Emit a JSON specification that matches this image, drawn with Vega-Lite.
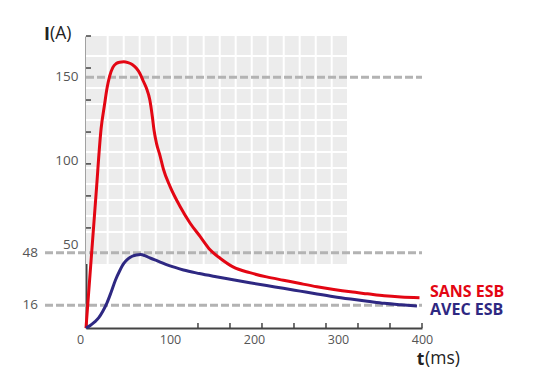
{
  "$schema": "https://vega.github.io/schema/vega-lite/v6.json",
  "width": 336,
  "height": 292,
  "autosize": {"type": "none"},
  "padding": {"left": 86, "top": 36, "right": 114, "bottom": 59},
  "background": "white",
  "config": {
    "view": {"stroke": null},
    "font": "Open Sans",
    "axis": {"grid": false, "zindex": 1, "labelFont": "Open Sans", "titleFont": "Open Sans", "labelOverlap": false, "labelFlush": false, "labelBound": false}
  },
  "datasets": {
    "curves": [
      {"s": "SANS ESB", "t": 0, "i": 0},
      {"s": "SANS ESB", "t": 6, "i": 40},
      {"s": "SANS ESB", "t": 12, "i": 80},
      {"s": "SANS ESB", "t": 18, "i": 119},
      {"s": "SANS ESB", "t": 22, "i": 133},
      {"s": "SANS ESB", "t": 25, "i": 143},
      {"s": "SANS ESB", "t": 28, "i": 150},
      {"s": "SANS ESB", "t": 32, "i": 155.5},
      {"s": "SANS ESB", "t": 36, "i": 157.8},
      {"s": "SANS ESB", "t": 40, "i": 158.6},
      {"s": "SANS ESB", "t": 45, "i": 158.8},
      {"s": "SANS ESB", "t": 50, "i": 158.3},
      {"s": "SANS ESB", "t": 55, "i": 157.2},
      {"s": "SANS ESB", "t": 60, "i": 155},
      {"s": "SANS ESB", "t": 64, "i": 152},
      {"s": "SANS ESB", "t": 68, "i": 147.5},
      {"s": "SANS ESB", "t": 72, "i": 143},
      {"s": "SANS ESB", "t": 76, "i": 136},
      {"s": "SANS ESB", "t": 79, "i": 126},
      {"s": "SANS ESB", "t": 81, "i": 118},
      {"s": "SANS ESB", "t": 84, "i": 110},
      {"s": "SANS ESB", "t": 88, "i": 103},
      {"s": "SANS ESB", "t": 92, "i": 95},
      {"s": "SANS ESB", "t": 100, "i": 84.5},
      {"s": "SANS ESB", "t": 112, "i": 72.5},
      {"s": "SANS ESB", "t": 124, "i": 62.5},
      {"s": "SANS ESB", "t": 136, "i": 54.5},
      {"s": "SANS ESB", "t": 148, "i": 46.5},
      {"s": "SANS ESB", "t": 160, "i": 41.5},
      {"s": "SANS ESB", "t": 175, "i": 36.5},
      {"s": "SANS ESB", "t": 195, "i": 33},
      {"s": "SANS ESB", "t": 215, "i": 30.5},
      {"s": "SANS ESB", "t": 235, "i": 28.5},
      {"s": "SANS ESB", "t": 255, "i": 26.5},
      {"s": "SANS ESB", "t": 275, "i": 24.6},
      {"s": "SANS ESB", "t": 295, "i": 23},
      {"s": "SANS ESB", "t": 315, "i": 21.6},
      {"s": "SANS ESB", "t": 335, "i": 20.4},
      {"s": "SANS ESB", "t": 355, "i": 19.2},
      {"s": "SANS ESB", "t": 375, "i": 18.5},
      {"s": "SANS ESB", "t": 397, "i": 18.1},
      {"s": "AVEC ESB", "t": 0, "i": 0},
      {"s": "AVEC ESB", "t": 5, "i": 1.5},
      {"s": "AVEC ESB", "t": 10, "i": 3.5},
      {"s": "AVEC ESB", "t": 15, "i": 6},
      {"s": "AVEC ESB", "t": 20, "i": 10},
      {"s": "AVEC ESB", "t": 25, "i": 15},
      {"s": "AVEC ESB", "t": 30, "i": 21.5},
      {"s": "AVEC ESB", "t": 35, "i": 28.5},
      {"s": "AVEC ESB", "t": 40, "i": 34},
      {"s": "AVEC ESB", "t": 45, "i": 38.5},
      {"s": "AVEC ESB", "t": 50, "i": 41.2},
      {"s": "AVEC ESB", "t": 55, "i": 42.8},
      {"s": "AVEC ESB", "t": 60, "i": 43.6},
      {"s": "AVEC ESB", "t": 65, "i": 43.8},
      {"s": "AVEC ESB", "t": 70, "i": 43.2},
      {"s": "AVEC ESB", "t": 76, "i": 41.8},
      {"s": "AVEC ESB", "t": 85, "i": 40},
      {"s": "AVEC ESB", "t": 95, "i": 38},
      {"s": "AVEC ESB", "t": 105, "i": 36.3},
      {"s": "AVEC ESB", "t": 116, "i": 34.6},
      {"s": "AVEC ESB", "t": 135, "i": 32.5},
      {"s": "AVEC ESB", "t": 155, "i": 30.6},
      {"s": "AVEC ESB", "t": 175, "i": 28.8},
      {"s": "AVEC ESB", "t": 195, "i": 27},
      {"s": "AVEC ESB", "t": 215, "i": 25.3},
      {"s": "AVEC ESB", "t": 235, "i": 23.7},
      {"s": "AVEC ESB", "t": 255, "i": 22},
      {"s": "AVEC ESB", "t": 275, "i": 20.3},
      {"s": "AVEC ESB", "t": 295, "i": 18.7},
      {"s": "AVEC ESB", "t": 315, "i": 17.3},
      {"s": "AVEC ESB", "t": 335, "i": 16},
      {"s": "AVEC ESB", "t": 355, "i": 14.7},
      {"s": "AVEC ESB", "t": 375, "i": 13.8},
      {"s": "AVEC ESB", "t": 394, "i": 13.1}
    ],
    "gx": [{"g": 25.8}, {"g": 44.9}, {"g": 63.9}, {"g": 83.0}, {"g": 102.0}, {"g": 121.1}, {"g": 140.1}, {"g": 159.2}, {"g": 178.2}, {"g": 197.3}, {"g": 216.3}, {"g": 235.4}, {"g": 254.4}, {"g": 273.5}, {"g": 292.5}],
    "gy": [{"g": 162.3}, {"g": 143.2}, {"g": 133.7}, {"g": 124.1}, {"g": 114.6}, {"g": 105.0}, {"g": 95.5}, {"g": 85.9}, {"g": 76.4}, {"g": 66.8}, {"g": 57.3}],
    "xt": [{"v": 133.3}, {"v": 171.4}, {"v": 209.5}, {"v": 247.6}, {"v": 285.7}, {"v": 323.8}, {"v": 361.9}, {"v": 400}],
    "yt": [{"v": 174.2}, {"v": 155.1}, {"v": 136.0}, {"v": 116.9}, {"v": 97.9}, {"v": 78.8}, {"v": 59.7}],
    "refs": [{"v": 149.6, "from": 0, "lab": ""}, {"v": 44.9, "from": -48.8, "lab": "48"}, {"v": 13.5, "from": -48.8, "lab": "16"}],
    "labels": [{"s": "SANS ESB", "t": 400, "i": 21.6}, {"s": "AVEC ESB", "t": 400, "i": 10.5}],
    "units": [{"txt": "(A)", "t": -42.9, "i": 172.3}, {"txt": "(ms)", "t": 403.6, "i": -21.5}]
  },
  "layer": [
    {
      "data": {"values": [{}]},
      "mark": {"type": "rect", "color": "#ececec"},
      "encoding": {
        "x": {"datum": 0, "type": "quantitative", "scale": {"domain": [0, 400], "nice": false},
          "axis": {
            "title": "t", "titleFontWeight": "bold", "titleFontSize": 17.5, "titleColor": "#222",
            "titleAngle": 0, "titleX": 334, "titleY": 36, "titleAlign": "center", "titleBaseline": "alphabetic",
            "values": [0, 100, 200, 300, 400],
            "domainColor": "#444", "domainWidth": 2, "ticks": false,
            "labelFontSize": 12.5, "labelColor": "#555", "labelPadding": 5,
            "labelOffset": {"condition": {"test": "datum.value == 0", "value": -6}, "value": 0}
          }},
        "x2": {"datum": 310.7},
        "y": {"datum": 38.2, "type": "quantitative", "scale": {"domain": [0, 174.2], "nice": false},
          "axis": {
            "title": "I", "titleFontWeight": "bold", "titleFontSize": 18, "titleColor": "#222",
            "titleAngle": 0, "titleX": -39.5, "titleY": 3.3, "titleAlign": "center", "titleBaseline": "alphabetic",
            "values": [50, 100, 150],
            "domainColor": "#444", "domainWidth": 2, "ticks": false,
            "labelFontSize": 13.5, "labelColor": "#555", "labelPadding": 8
          }},
        "y2": {"datum": 174.2}
      }
    },
    {
      "data": {"name": "gx"},
      "mark": {"type": "rule", "color": "white", "strokeWidth": 2},
      "encoding": {"x": {"field": "g", "type": "quantitative"}, "y": {"datum": 38.2}, "y2": {"datum": 174.2}}
    },
    {
      "data": {"name": "gy"},
      "mark": {"type": "rule", "color": "white", "strokeWidth": 2},
      "encoding": {"y": {"field": "g", "type": "quantitative"}, "x": {"datum": 0}, "x2": {"datum": 310.7}}
    },
    {
      "data": {"name": "xt"},
      "mark": {"type": "rule", "color": "#444", "strokeWidth": 1.5},
      "encoding": {"x": {"field": "v", "type": "quantitative"}, "y": {"datum": 0}, "y2": {"datum": 3}}
    },
    {
      "data": {"name": "yt"},
      "mark": {"type": "rule", "color": "#444", "strokeWidth": 1.5},
      "encoding": {"y": {"field": "v", "type": "quantitative"}, "x": {"datum": 0}, "x2": {"datum": 6}}
    },
    {
      "data": {"name": "refs"},
      "mark": {"type": "rule", "color": "#b3b3b3", "strokeWidth": 3, "strokeDash": [8, 3]},
      "encoding": {"y": {"field": "v", "type": "quantitative"}, "x": {"field": "from", "type": "quantitative"}, "x2": {"datum": 400}}
    },
    {
      "data": {"name": "refs"},
      "mark": {"type": "text", "align": "right", "baseline": "middle", "dx": -7, "fontSize": 13.5, "color": "#555", "font": "Open Sans"},
      "encoding": {"y": {"field": "v", "type": "quantitative"}, "x": {"field": "from", "type": "quantitative"}, "text": {"field": "lab"}}
    },
    {
      "data": {"name": "curves"},
      "mark": {"type": "line", "strokeWidth": 3, "interpolate": "monotone"},
      "encoding": {
        "x": {"field": "t", "type": "quantitative"},
        "y": {"field": "i", "type": "quantitative"},
        "color": {"field": "s", "type": "nominal", "scale": {"domain": ["SANS ESB", "AVEC ESB"], "range": ["#e30613", "#2e2882"]}, "legend": null}
      }
    },
    {
      "data": {"name": "labels"},
      "mark": {"type": "text", "align": "left", "baseline": "middle", "dx": 8, "fontWeight": "bold", "fontSize": 16, "font": "Open Sans"},
      "encoding": {
        "x": {"field": "t", "type": "quantitative"},
        "y": {"field": "i", "type": "quantitative"},
        "text": {"field": "s"},
        "color": {"field": "s", "type": "nominal", "legend": null}
      }
    },
    {
      "data": {"name": "units"},
      "mark": {"type": "text", "align": "left", "baseline": "alphabetic", "fontSize": 17.5, "color": "#222", "font": "Open Sans"},
      "encoding": {
        "x": {"field": "t", "type": "quantitative"},
        "y": {"field": "i", "type": "quantitative"},
        "text": {"field": "txt"}
      }
    }
  ]
}
